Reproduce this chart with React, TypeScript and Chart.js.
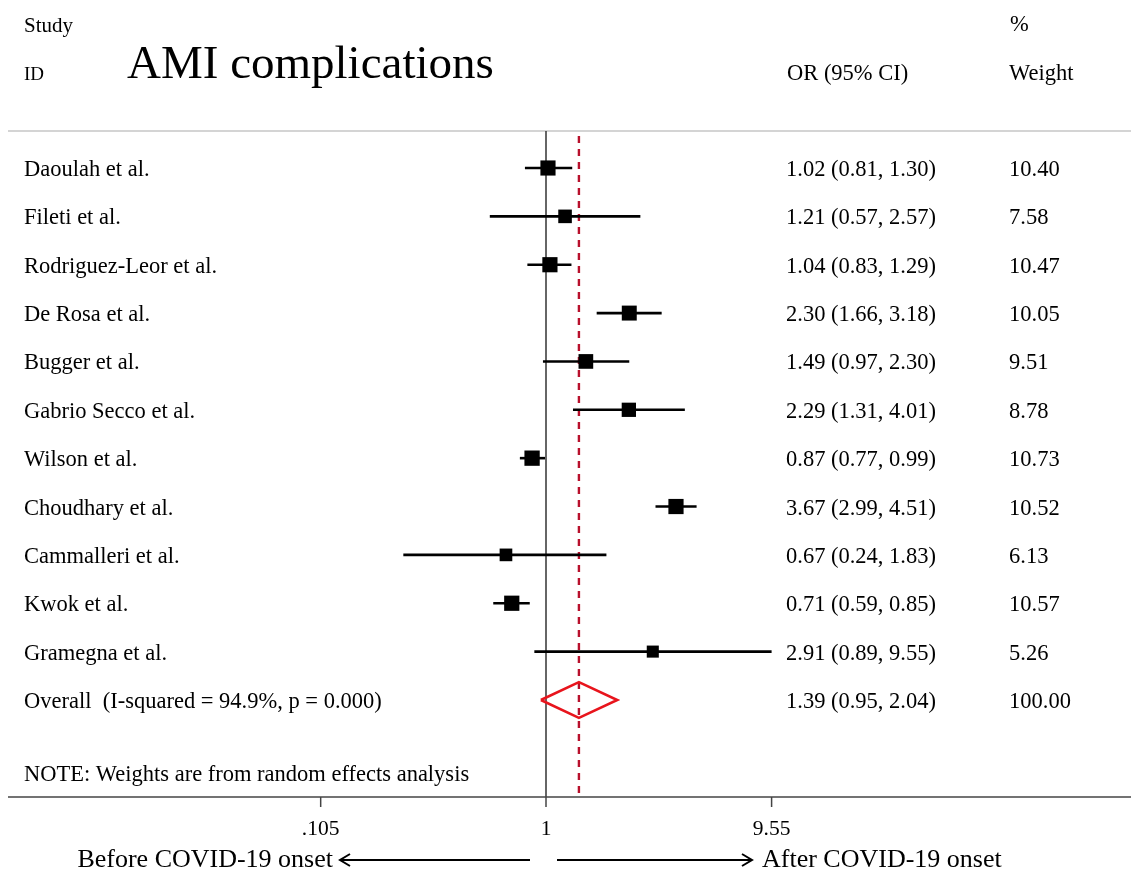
import React, { useEffect, useRef } from 'react';
import { Chart, registerables } from 'chart.js';

Chart.register(...registerables);

// ---------- data ----------
const studies = [
  'Daoulah et al.',
  'Fileti et al.',
  'Rodriguez-Leor et al.',
  'De Rosa et al.',
  'Bugger et al.',
  'Gabrio Secco et al.',
  'Wilson et al.',
  'Choudhary et al.',
  'Cammalleri et al.',
  'Kwok et al.',
  'Gramegna et al.',
];
const oddsRatios = [1.02, 1.21, 1.04, 2.3, 1.49, 2.29, 0.87, 3.67, 0.67, 0.71, 2.91];
const ciLower = [0.81, 0.57, 0.83, 1.66, 0.97, 1.31, 0.77, 2.99, 0.24, 0.59, 0.89];
const ciUpper = [1.3, 2.57, 1.29, 3.18, 2.3, 4.01, 0.99, 4.51, 1.83, 0.85, 9.55];
const weights = [10.4, 7.58, 10.47, 10.05, 9.51, 8.78, 10.73, 10.52, 6.13, 10.57, 5.26];

const overallLabel = 'Overall  (I-squared = 94.9%, p = 0.000)';
const overallOR = 1.39;
const overallLower = 0.95;
const overallUpper = 2.04;
const overallWeight = 100.0;

const xTickValues = [0.105, 1, 9.55];
const xTickLabels = ['.105', '1', '9.55'];

const titleText = 'AMI complications';
const noteText = 'NOTE: Weights are from random effects analysis';
const leftArrowText = 'Before COVID-19 onset';
const rightArrowText = 'After COVID-19 onset';

// ---------- layout (pixels) ----------
const W = 1131;
const H = 870;
const ONE_PX = 546; // pixel of OR = 1
const PX_PER_DECADE = 230.2;
const FIRST_ROW_PX = 168;
const ROW_PX = 48.36;
const TOP_RULE_Y = 131;
const AXIS_Y = 797;
const SERIF = '"Liberation Serif", "Times New Roman", serif';

const xMin = Math.pow(10, -ONE_PX / PX_PER_DECADE);
const xMax = Math.pow(10, (W - ONE_PX) / PX_PER_DECADE);
const yMin = 1 - FIRST_ROW_PX / ROW_PX;
const yMax = yMin + H / ROW_PX;

const fmt = (v: number) => v.toFixed(2);

export default function App() {
  const ref = useRef<HTMLCanvasElement | null>(null);

  useEffect(() => {
    const canvas = ref.current;
    if (!canvas) return;

    const overallRow = studies.length + 1;

    const ciDatasets = studies.map((s, i) => ({
      label: s,
      data: [
        { x: ciLower[i], y: i + 1 },
        { x: ciUpper[i], y: i + 1 },
      ],
      showLine: true,
      borderColor: '#000',
      borderWidth: 2.6,
      pointRadius: 0,
      order: 2,
    }));

    const boxDataset = {
      label: 'OR',
      data: oddsRatios.map((v, i) => ({ x: v, y: i + 1 })),
      showLine: false,
      pointStyle: 'rect',
      pointRadius: weights.map((w) => (4.5 + 3.3 * Math.sqrt(w)) / Math.SQRT2),
      backgroundColor: '#000',
      borderColor: '#000',
      borderWidth: 0,
      order: 1,
    };

    const dh = 0.37;
    const diamond = {
      label: 'Overall',
      data: [
        { x: overallLower, y: overallRow },
        { x: overallOR, y: overallRow - dh },
        { x: overallUpper, y: overallRow },
        { x: overallOR, y: overallRow + dh },
        { x: overallLower, y: overallRow },
      ],
      showLine: true,
      borderColor: '#e8141c',
      borderWidth: 2.6,
      pointRadius: 0,
      fill: false,
      tension: 0,
      order: 0,
    };

    const decor = {
      id: 'forestDecor',
      beforeDatasetsDraw(chart: any) {
        const ctx = chart.ctx;
        const xs = chart.scales.x;
        const x1 = xs.getPixelForValue(1);
        const xo = xs.getPixelForValue(overallOR);
        ctx.save();
        // top rule
        ctx.strokeStyle = '#d4d4d4';
        ctx.lineWidth = 2;
        ctx.beginPath();
        ctx.moveTo(8, TOP_RULE_Y);
        ctx.lineTo(W, TOP_RULE_Y);
        ctx.stroke();
        // null line
        ctx.strokeStyle = '#333';
        ctx.lineWidth = 1.5;
        ctx.beginPath();
        ctx.moveTo(x1, TOP_RULE_Y);
        ctx.lineTo(x1, AXIS_Y);
        ctx.stroke();
        // overall dashed line
        ctx.strokeStyle = '#b8102c';
        ctx.lineWidth = 2.4;
        ctx.setLineDash([7, 6]);
        ctx.beginPath();
        ctx.moveTo(xo, TOP_RULE_Y + 5);
        ctx.lineTo(xo, AXIS_Y);
        ctx.stroke();
        ctx.setLineDash([]);
        // axis line
        ctx.strokeStyle = '#444';
        ctx.lineWidth = 1.6;
        ctx.beginPath();
        ctx.moveTo(8, AXIS_Y);
        ctx.lineTo(W, AXIS_Y);
        ctx.stroke();
        // ticks
        ctx.lineWidth = 1.5;
        xTickValues.forEach((v) => {
          const px = xs.getPixelForValue(v);
          ctx.beginPath();
          ctx.moveTo(px, AXIS_Y);
          ctx.lineTo(px, AXIS_Y + 10);
          ctx.stroke();
        });
        ctx.restore();
      },
      afterDraw(chart: any) {
        const ctx = chart.ctx;
        const xs = chart.scales.x;
        const ys = chart.scales.y;
        ctx.save();
        ctx.fillStyle = '#000';
        ctx.textBaseline = 'alphabetic';
        ctx.textAlign = 'left';

        // headers
        ctx.font = `21px ${SERIF}`;
        ctx.fillText('Study', 24, 32);
        ctx.font = `19px ${SERIF}`;
        ctx.fillText('ID', 24, 80);
        ctx.font = `22.5px ${SERIF}`;
        ctx.fillText('OR (95% CI)', 787, 80);
        ctx.fillText('%', 1010, 31);
        ctx.fillText('Weight', 1009, 80);
        ctx.font = `47px ${SERIF}`;
        ctx.fillText(titleText, 127, 78);

        // rows
        ctx.font = `22.5px ${SERIF}`;
        studies.forEach((s, i) => {
          const py = ys.getPixelForValue(i + 1) + 8;
          ctx.fillText(s, 24, py);
          ctx.fillText(`${fmt(oddsRatios[i])} (${fmt(ciLower[i])}, ${fmt(ciUpper[i])})`, 786, py);
          ctx.fillText(fmt(weights[i]), 1009, py);
        });
        const po = ys.getPixelForValue(overallRow) + 8;
        ctx.fillText(overallLabel, 24, po);
        ctx.fillText(`${fmt(overallOR)} (${fmt(overallLower)}, ${fmt(overallUpper)})`, 786, po);
        ctx.fillText(fmt(overallWeight), 1009, po);

        // note
        ctx.fillText(noteText, 24, 781);

        // tick labels
        ctx.textAlign = 'center';
        ctx.font = `21.5px ${SERIF}`;
        xTickValues.forEach((v, i) => {
          ctx.fillText(xTickLabels[i], xs.getPixelForValue(v), 835);
        });

        // arrows
        ctx.font = `26px ${SERIF}`;
        ctx.textAlign = 'right';
        ctx.fillText(leftArrowText, 333, 867);
        ctx.textAlign = 'left';
        ctx.fillText(rightArrowText, 762, 867);

        const ay = 860;
        ctx.strokeStyle = '#000';
        ctx.lineWidth = 2;
        ctx.beginPath();
        ctx.moveTo(340, ay);
        ctx.lineTo(530, ay);
        ctx.moveTo(350, ay - 6);
        ctx.lineTo(340, ay);
        ctx.lineTo(350, ay + 6);
        ctx.moveTo(557, ay);
        ctx.lineTo(752, ay);
        ctx.moveTo(742, ay - 6);
        ctx.lineTo(752, ay);
        ctx.lineTo(742, ay + 6);
        ctx.stroke();
        ctx.restore();
      },
    };

    const chart = new Chart(canvas, {
      type: 'scatter',
      data: { datasets: [...ciDatasets, boxDataset, diamond] as any },
      options: {
        animation: false,
        responsive: false,
        maintainAspectRatio: false,
        devicePixelRatio: 1,
        layout: { padding: 0, autoPadding: false },
        plugins: {
          legend: { display: false },
          tooltip: { enabled: false },
        },
        scales: {
          x: {
            type: 'logarithmic',
            min: xMin,
            max: xMax,
            bounds: 'data',
            display: false,
          },
          y: {
            type: 'linear',
            reverse: true,
            min: yMin,
            max: yMax,
            bounds: 'data',
            display: false,
          },
        },
      } as any,
      plugins: [decor],
    });

    return () => chart.destroy();
  }, []);

  return (
    <div style={{ position: 'fixed', left: 0, top: 0, width: W, height: H, background: '#fff' }}>
      <canvas ref={ref} width={W} height={H} style={{ display: 'block', width: W, height: H }} />
    </div>
  );
}
